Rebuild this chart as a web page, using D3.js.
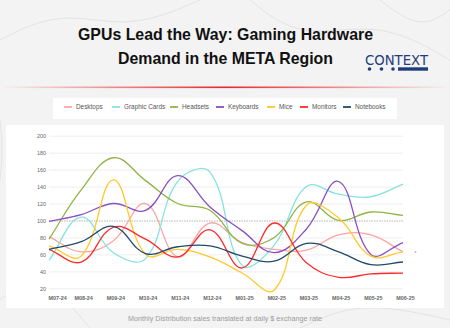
<!DOCTYPE html>
<html>
<head>
<meta charset="utf-8">
<script src="https://cdn.jsdelivr.net/npm/d3@7"></script>
<style>
  html, body { margin: 0; padding: 0; background: #f3f3f3; }
  svg { display: block; font-family: "Liberation Sans", Arial, sans-serif; }
</style>
</head>
<body>
<div id="chart"></div>
<script>
// chart size
const width = 450
const height = 328

// data
const months = ["M07-24", "M08-24", "M09-24", "M10-24", "M11-24", "M12-24",
                "M01-25", "M02-25", "M03-25", "M04-25", "M05-25", "M06-25"]
const yTicks = [20, 40, 60, 80, 100, 120, 140, 160, 180, 200]

const desktops     = [81, 63, 76, 120, 57, 97, 74, 66, 65, 83, 83, 63]
const graphicCards = [53, 104, 62, 55, 146, 157, 47, 71, 140, 131, 128, 143]
const headsets     = [78, 136, 174, 147, 120, 112, 73, 80, 122, 100, 110, 106]
const keyboards    = [99, 107, 120, 112, 153, 116, 88, 62, 90, 146, 60, 74]
const mice         = [70, 58, 148, 60, 66, 57, 38, 18, 118, 103, 58, 63]
const monitors     = [66, 51, 92, 78, 57, 89, 44, 97, 50, 33, 37, 38]
const notebooks    = [66, 75, 93, 61, 69, 70, 58, 52, 73, 63, 48, 51]

const seriesNames  = ["Desktops", "Graphic Cards", "Headsets", "Keyboards", "Mice", "Monitors", "Notebooks"]
const seriesColors = ["#ffa3a3", "#86e3df", "#8fb443", "#8a4fc0", "#ffc928", "#ff2a2a", "#22496b"]
const seriesValues = [desktops, graphicCards, headsets, keyboards, mice, monitors, notebooks]

// bezier smoothing like the original chart (tension 0.4, distance weighted)
function tensionCurve(context) {
  var pts = []
  return {
    areaStart: function() {},
    areaEnd: function() {},
    lineStart: function() { pts = [] },
    point: function(px, py) { pts.push([+px, +py]) },
    lineEnd: function() {
      var t = 0.4, cps = []
      pts.forEach(function(p, i) {
        var a = pts[i - 1] || p, b = pts[i + 1] || p
        var d01 = Math.hypot(p[0] - a[0], p[1] - a[1])
        var d12 = Math.hypot(b[0] - p[0], b[1] - p[1])
        var s01 = d01 / (d01 + d12), s12 = d12 / (d01 + d12)
        if (isNaN(s01)) s01 = 0
        if (isNaN(s12)) s12 = 0
        var fa = t * s01, fb = t * s12
        cps.push({
          inx: p[0] - fa * (b[0] - a[0]), iny: p[1] - fa * (b[1] - a[1]),
          outx: p[0] + fb * (b[0] - a[0]), outy: p[1] + fb * (b[1] - a[1])
        })
      })
      pts.forEach(function(p, i) {
        if (i === 0) { context.moveTo(p[0], p[1]); return }
        context.bezierCurveTo(cps[i - 1].outx, cps[i - 1].outy, cps[i].inx, cps[i].iny, p[0], p[1])
      })
    }
  }
}

var svg = d3.select("#chart")
            .append("svg")
            .attr("width", width)
            .attr("height", height)

// page background with faint contour lines
svg.append("rect").attr("width", width).attr("height", height).attr("fill", "#f3f3f3")

var contour = d3.line().curve(d3.curveBasis)
var contours = [
  [[0, 40], [60, 10], [130, 30], [200, 0]],
  [[250, 0], [300, 40], [380, 20], [450, 60]],
  [[0, 300], [40, 270], [90, 328]],
  [[300, 328], [360, 300], [450, 320]],
  [[380, 0], [420, 30], [450, 10]],
  [[0, 180], [3, 150], [0, 120]]
]
svg.append("g")
   .selectAll("path")
   .data(contours)
   .enter()
   .append("path")
   .attr("d", contour)
   .attr("fill", "none")
   .attr("stroke", "#e3e3e3")
   .attr("stroke-width", 1)

// red fading rule under the title
var grad = svg.append("defs").append("linearGradient").attr("id", "redrule")
grad.append("stop").attr("offset", "0%").attr("stop-color", "#e8262b").attr("stop-opacity", 0)
grad.append("stop").attr("offset", "50%").attr("stop-color", "#e8262b").attr("stop-opacity", 1)
grad.append("stop").attr("offset", "100%").attr("stop-color", "#e8262b").attr("stop-opacity", 0)
svg.append("rect")
   .attr("x", 0).attr("y", 86.5)
   .attr("width", width).attr("height", 1.6)
   .attr("fill", "url(#redrule)")

// title
var title = svg.append("g").attr("text-anchor", "middle").attr("fill", "#111")
   .style("font-weight", "bold").style("font-size", "17px")
title.append("text").attr("x", 225.5).attr("y", 39.5)
     .attr("textLength", 295).attr("lengthAdjust", "spacingAndGlyphs")
     .text("GPUs Lead the Way: Gaming Hardware")
title.append("text").attr("x", 225.5).attr("y", 63.5)
     .attr("textLength", 215).attr("lengthAdjust", "spacingAndGlyphs")
     .text("Demand in the META Region")

// CONTEXT logo
var logo = svg.append("g").attr("fill", "#1f3d7a")
logo.append("text")
    .attr("x", 365).attr("y", 65)
    .attr("textLength", 63).attr("lengthAdjust", "spacingAndGlyphs")
    .style("font-family", "'DejaVu Sans', sans-serif")
    .style("font-size", "13.5px").style("font-weight", "500")
    .text("CONTEXT")
logo.selectAll("circle").data([369.5, 381.5, 393]).enter().append("circle")
    .attr("cx", d => d).attr("cy", 69).attr("r", 1.8)
logo.append("rect").attr("x", 398).attr("y", 67.3).attr("width", 30).attr("height", 3.4)

// legend box
svg.append("rect")
   .attr("x", 53).attr("y", 98).attr("width", 344).attr("height", 21)
   .attr("fill", "#ffffff")

var legendX = [64, 112, 170, 216, 267, 300, 343]
var legend = svg.append("g")
   .selectAll("g")
   .data(seriesNames)
   .enter()
   .append("g")
   .attr("transform", (d, i) => "translate(" + legendX[i] + ",107)")
legend.append("line")
   .attr("x1", 0).attr("x2", 8).attr("y1", 0).attr("y2", 0)
   .attr("stroke", (d, i) => seriesColors[i]).attr("stroke-width", 1.8)
legend.append("text")
   .attr("x", 12).attr("y", 2.3)
   .attr("fill", "#555")
   .style("font-size", "6.4px")
   .text(d => d)

// chart card
svg.append("rect")
   .attr("x", 6).attr("y", 125).attr("width", 438).attr("height", 183)
   .attr("fill", "#ffffff")

// scales
var x = d3.scalePoint().domain(months).range([49, 403])
var y = d3.scaleLinear().domain([20, 200]).range([288.3, 135.7])

// y grid + labels
var yAxis = svg.append("g")
   .attr("transform", "translate(49,0)")
   .call(d3.axisLeft(y).tickValues(yTicks).tickSize(-354).tickPadding(3))
yAxis.select(".domain").remove()
yAxis.selectAll(".tick line")
   .attr("stroke", d => d === 100 ? "#b5b5b5" : "#eeeeee")
   .attr("stroke-width", d => d === 100 ? 1.2 : 1)
   .attr("stroke-dasharray", d => d === 100 ? "1.5,1" : null)
yAxis.selectAll(".tick text")
   .attr("fill", "#666")
   .style("font-size", "5.4px")
   .style("font-family", "'Liberation Sans', Arial, sans-serif")

// x labels
var xAxis = svg.append("g")
   .attr("transform", "translate(2,296)")
   .call(d3.axisBottom(x).tickSize(0).tickPadding(0))
xAxis.select(".domain").remove()
xAxis.selectAll(".tick text")
   .attr("fill", "#666")
   .style("font-size", "5.4px")
   .style("font-weight", "bold")
   .style("font-family", "'Liberation Sans', Arial, sans-serif")
   .attr("text-anchor", (d, i) => i === 0 ? "start" : "middle")
   .attr("dx", (d, i) => i === 0 ? -3 : 0)

// lines
var line = d3.line()
   .x((d, i) => x(months[i]))
   .y(d => y(d))
   .curve(tensionCurve)

svg.append("g")
   .selectAll("path")
   .data(seriesValues)
   .enter()
   .append("path")
   .attr("d", line)
   .attr("fill", "none")
   .attr("stroke", (d, i) => seriesColors[i])
   .attr("stroke-width", 1.3)

// stray point at the right edge
svg.append("circle").attr("cx", 415.5).attr("cy", 252).attr("r", 0.9).attr("fill", "#bbb")

// footer note
svg.append("text")
   .attr("x", 225).attr("y", 320.5)
   .attr("text-anchor", "middle")
   .attr("fill", "#9a9a9a")
   .style("font-size", "7.2px")
   .text("Monthly Distribution sales translated at daily $ exchange rate")
</script>
</body>
</html>
